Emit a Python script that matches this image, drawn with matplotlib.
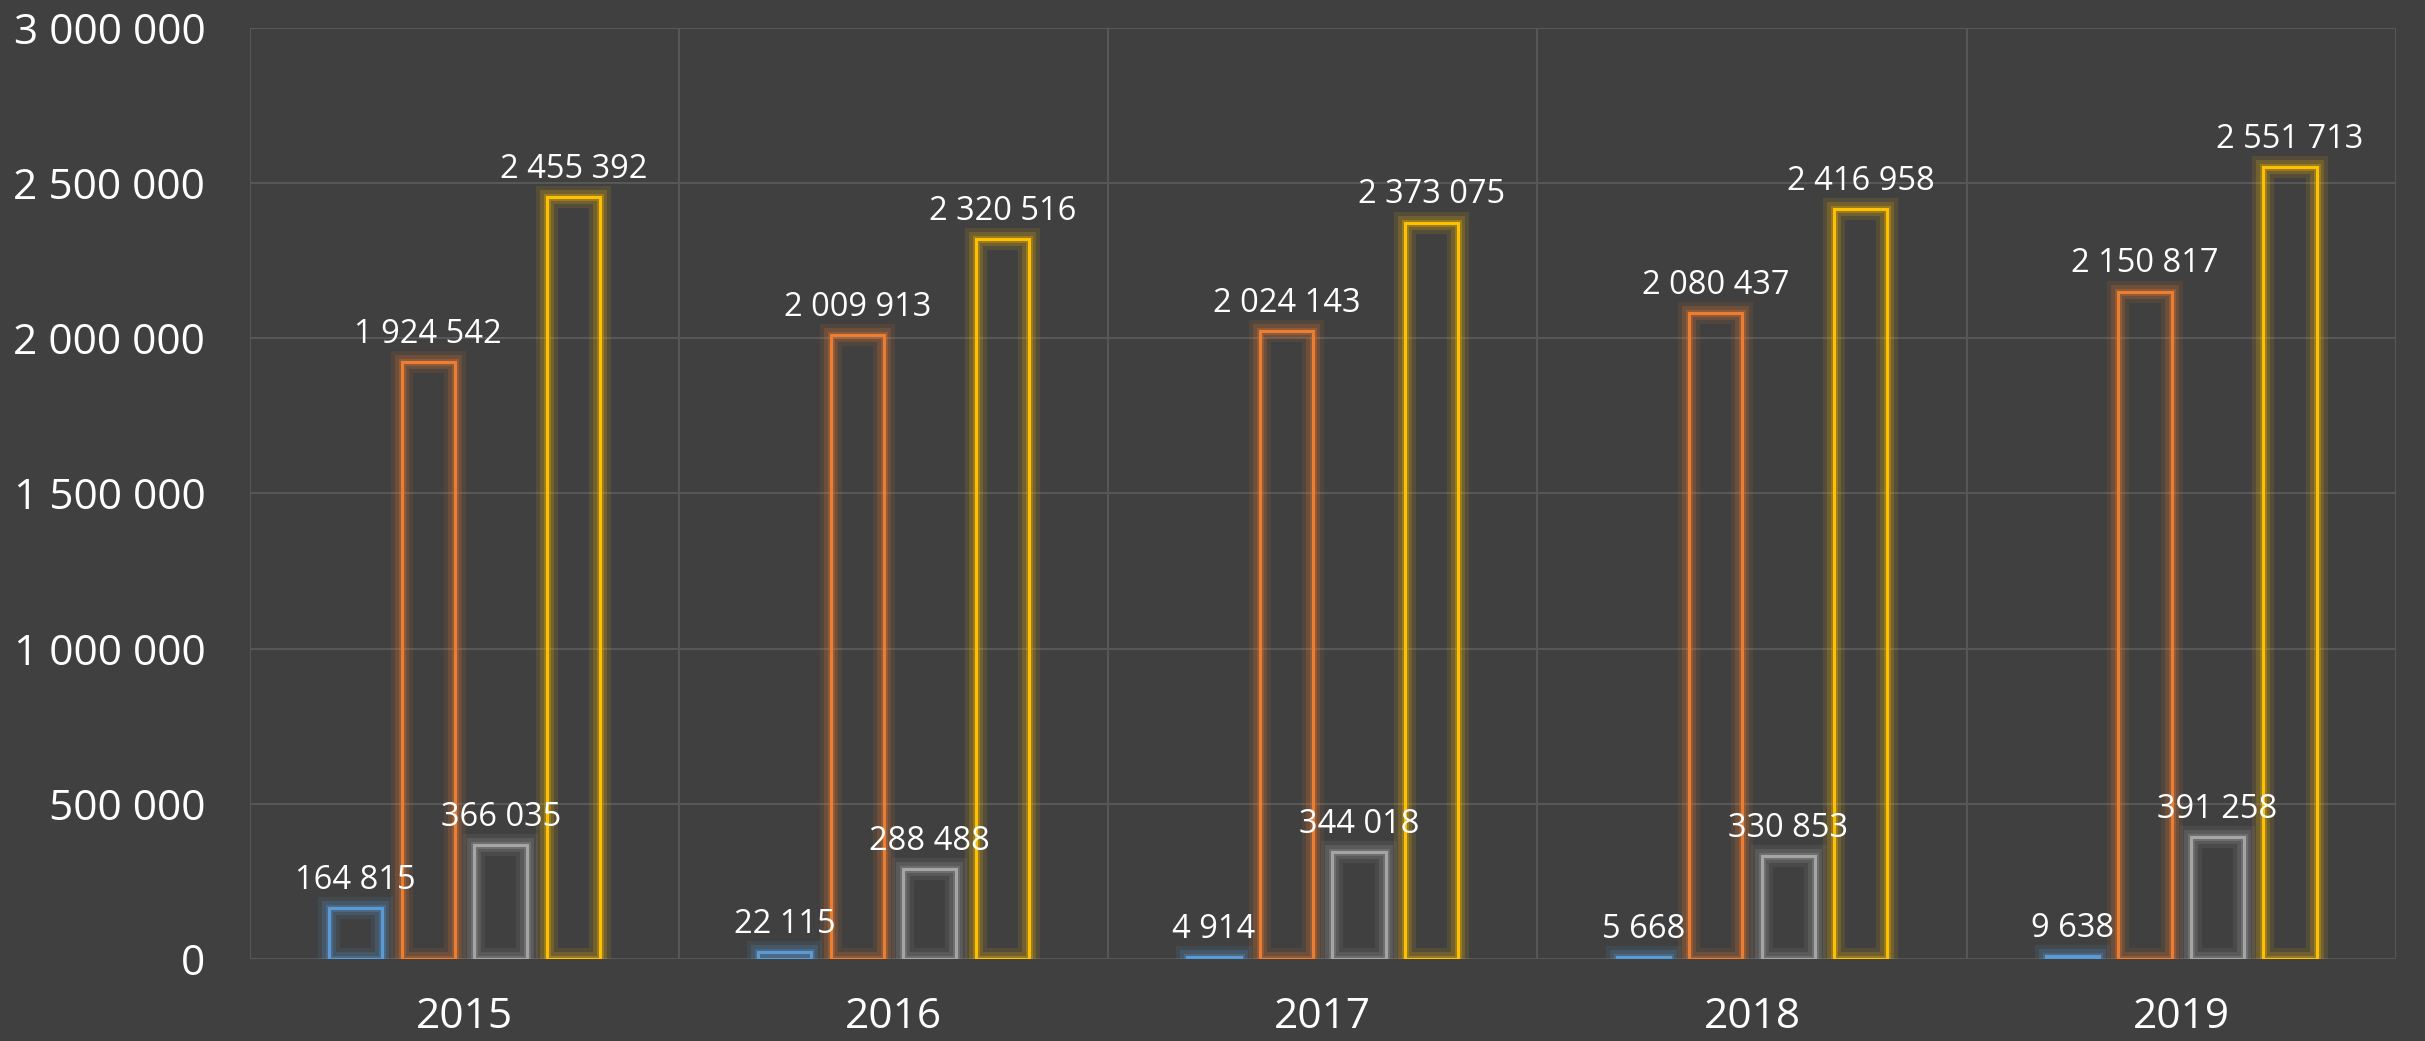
import matplotlib
matplotlib.use("Agg")
import matplotlib.pyplot as plt
import matplotlib.patheffects as pe
import numpy as np

years = ["2015", "2016", "2017", "2018", "2019"]
series_a = [164815, 22115, 4914, 5668, 9638]
series_b = [1924542, 2009913, 2024143, 2080437, 2150817]
series_c = [366035, 288488, 344018, 330853, 391258]
series_d = [2455392, 2320516, 2373075, 2416958, 2551713]
yticks = [0, 500000, 1000000, 1500000, 2000000, 2500000, 3000000]

colors = ["#5B9BD5", "#ED7D31", "#A5A5A5", "#FFC000"]
bg = "#404040"

def fmt(v):
    return f"{int(v):,}".replace(",", " ")

plt.rcParams['font.family'] = ['Open Sans', 'DejaVu Sans']

fig = plt.figure(figsize=(24.25, 10.41), dpi=100, facecolor=bg)
ax = fig.add_axes([0.103, 0.079, 0.885, 0.894], facecolor=bg)

x = np.arange(len(years))
step = 0.169
width = 0.124
all_series = [series_a, series_b, series_c, series_d]
for i, (vals, col) in enumerate(zip(all_series, colors)):
    pos = x + (i - 1.5) * step
    bars = ax.bar(pos, vals, width=width, facecolor="none", edgecolor=col,
                  linewidth=2.2, zorder=3)
    for b in bars:
        b.set_path_effects([
            pe.Stroke(linewidth=16, foreground=col, alpha=0.10),
            pe.Stroke(linewidth=10, foreground=col, alpha=0.18),
            pe.Stroke(linewidth=5, foreground=col, alpha=0.28),
            pe.Normal(),
        ])
    for p, v in zip(pos, vals):
        ax.annotate(fmt(v), (p, v), xytext=(0, 8), textcoords="offset points",
                    ha="center", va="bottom", color="white", fontsize=23.5, zorder=4)

ax.set_xlim(-0.5, len(years) - 0.5)
ax.set_ylim(0, 3000000)
ax.set_yticks(yticks)
ax.set_yticklabels([fmt(t) for t in yticks])
ax.set_xticks(x)
ax.set_xticklabels(years)
ax.tick_params(axis="y", length=0, pad=32, labelsize=30.5, labelcolor="white")
ax.tick_params(axis="x", length=0, pad=27, labelsize=30.5, labelcolor="white")

grid_col = "#575757"
for t in yticks:
    ax.axhline(t, color=grid_col, linewidth=1.5, zorder=1)
for b in np.arange(-0.5, len(years), 1.0):
    ax.axvline(b, color=grid_col, linewidth=1.5, zorder=1)
for s in ax.spines.values():
    s.set_visible(False)

fig.savefig("out.png", dpi=100, facecolor=bg)
